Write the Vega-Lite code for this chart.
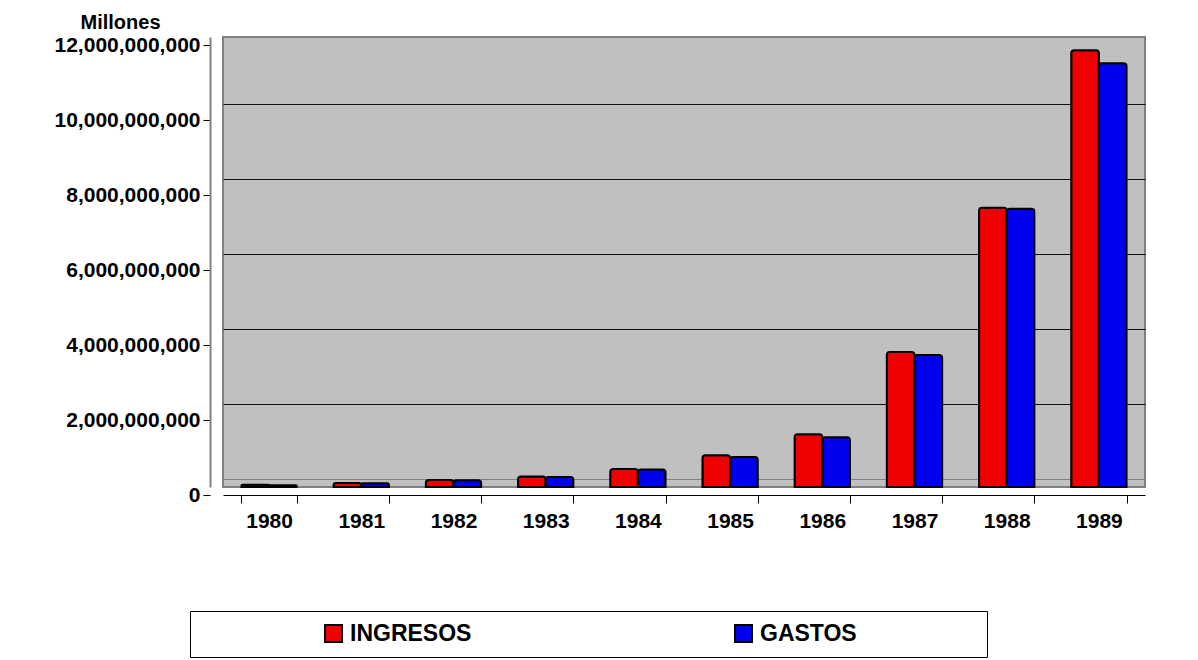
{
  "$schema": "https://vega.github.io/schema/vega-lite/v6.json",
  "autosize": "none",
  "width": 922,
  "height": 450,
  "padding": {"left": 223, "top": 37, "right": 53, "bottom": 173},
  "background": "white",
  "config": {
    "font": "Liberation Sans",
    "view": {"fill": "#C0C0C0", "stroke": "#808080", "strokeWidth": 2}
  },
  "data": {
    "values": [
      {"year": "1980", "series": "INGRESOS", "value": 60000000},
      {"year": "1980", "series": "GASTOS", "value": 50000000},
      {"year": "1981", "series": "INGRESOS", "value": 110000000},
      {"year": "1981", "series": "GASTOS", "value": 100000000},
      {"year": "1982", "series": "INGRESOS", "value": 190000000},
      {"year": "1982", "series": "GASTOS", "value": 180000000},
      {"year": "1983", "series": "INGRESOS", "value": 280000000},
      {"year": "1983", "series": "GASTOS", "value": 270000000},
      {"year": "1984", "series": "INGRESOS", "value": 480000000},
      {"year": "1984", "series": "GASTOS", "value": 470000000},
      {"year": "1985", "series": "INGRESOS", "value": 850000000},
      {"year": "1985", "series": "GASTOS", "value": 800000000},
      {"year": "1986", "series": "INGRESOS", "value": 1410000000},
      {"year": "1986", "series": "GASTOS", "value": 1330000000},
      {"year": "1987", "series": "INGRESOS", "value": 3600000000},
      {"year": "1987", "series": "GASTOS", "value": 3520000000},
      {"year": "1988", "series": "INGRESOS", "value": 7450000000},
      {"year": "1988", "series": "GASTOS", "value": 7420000000},
      {"year": "1989", "series": "INGRESOS", "value": 11650000000},
      {"year": "1989", "series": "GASTOS", "value": 11300000000}
    ]
  },
  "encoding": {
    "x": {
      "field": "year",
      "type": "nominal",
      "scale": {"paddingInner": 0.4, "paddingOuter": 0.2},
      "axis": {
        "title": null,
        "orient": "bottom",
        "offset": 8,
        "labelAngle": 0,
        "labelFont": "Liberation Sans",
        "labelFontSize": 21,
        "labelFontWeight": "bold",
        "labelColor": "black",
        "labelPadding": 7,
        "tickBand": "extent",
        "tickOffset": -13,
        "tickSize": 8,
        "tickColor": "black",
        "tickWidth": 1,
        "domainColor": "black",
        "domainWidth": 1,
        "grid": false
      }
    }
  },
  "layer": [
    {
      "mark": {"type": "point", "opacity": 0},
      "encoding": {
        "y": {
          "field": "value",
          "type": "quantitative",
          "scale": {"domain": [0, 12000000000]},
          "axis": {
            "orient": "right",
            "title": null,
            "labels": false,
            "ticks": false,
            "domain": false,
            "grid": true,
            "values": [0, 2000000000, 4000000000, 6000000000, 8000000000, 10000000000],
            "tickOffset": -8,
            "gridColor": {"condition": {"test": "datum.value === 0", "value": "#808080"}, "value": "#111111"},
            "gridWidth": 1
          }
        }
      }
    },
    {
      "mark": {"type": "bar", "stroke": "black", "strokeWidth": 2, "cornerRadiusTopLeft": 3, "cornerRadiusTopRight": 3},
      "encoding": {
        "xOffset": {"field": "series", "type": "nominal", "sort": ["INGRESOS", "GASTOS"]},
        "y": {
          "field": "value",
          "type": "quantitative",
          "scale": {"domain": [0, 12000000000]},
          "axis": {
            "orient": "left",
            "values": [0, 2000000000, 4000000000, 6000000000, 8000000000, 10000000000, 12000000000],
            "format": ",.0f",
            "offset": 13,
            "tickOffset": 8,
            "tickSize": 7,
            "tickColor": "black",
            "labelPadding": 3,
            "labelFont": "Liberation Sans",
            "labelFontSize": 21,
            "labelFontWeight": "bold",
            "labelColor": "black",
            "domainColor": "#808080",
            "domainWidth": 2,
            "grid": false,
            "title": "Millones",
            "titleAngle": 0,
            "titleAlign": "left",
            "titleBaseline": "alphabetic",
            "titleX": -130,
            "titleY": -9,
            "titleFont": "Liberation Sans",
            "titleFontSize": 20,
            "titleFontWeight": "bold",
            "titleColor": "black"
          }
        },
        "color": {
          "field": "series",
          "type": "nominal",
          "sort": ["INGRESOS", "GASTOS"],
          "scale": {"domain": ["INGRESOS", "GASTOS"], "range": ["#F00000", "#0000F0"]},
          "legend": {
            "orient": "none",
            "legendX": -33,
            "legendY": 574,
            "direction": "horizontal",
            "columns": 2,
            "columnPadding": 139,
            "title": "\u2800\u2800\u2800\u2800\u2800\u2800\u2800",
            "titleOrient": "right",
            "titleFontSize": 23,
            "titlePadding": 0,
            "titleFont": "Liberation Sans",
            "titleFontWeight": "bold",
            "symbolOffset": 121,
            "symbolType": "square",
            "symbolSize": 289,
            "symbolStrokeColor": "black",
            "symbolStrokeWidth": 2,
            "symbolOpacity": 1,
            "labelFont": "Liberation Sans",
            "labelFontSize": 23,
            "labelFontWeight": "bold",
            "labelColor": "black",
            "labelOffset": 5,
            "labelLimit": 500,
            "padding": 11,
            "strokeColor": "black",
            "fillColor": "white"
          }
        }
      }
    }
  ],
  "resolve": {"axis": {"y": "independent"}}
}
